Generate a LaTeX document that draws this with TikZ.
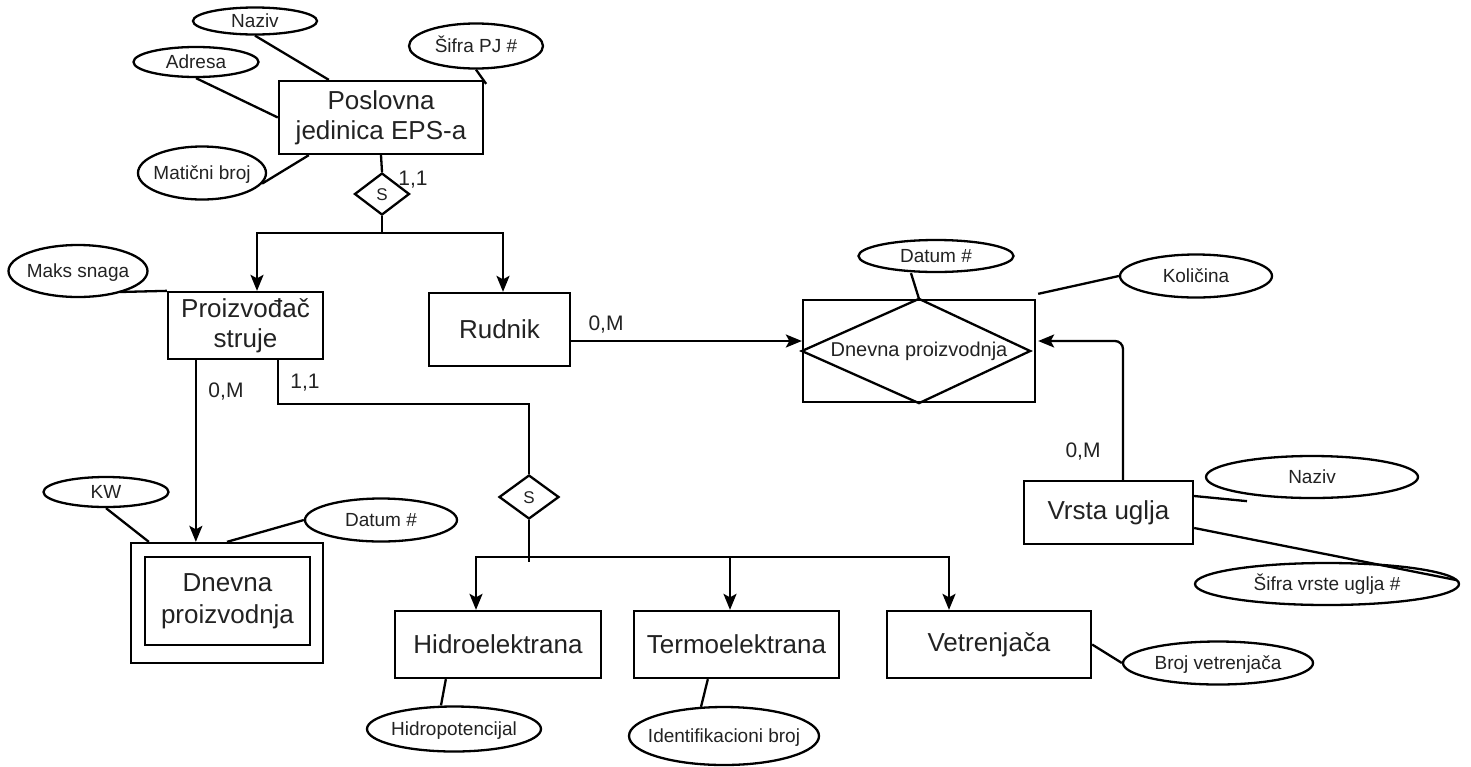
\documentclass[tikz,border=0pt]{standalone}
\usepackage{fontspec}
\setmainfont{Liberation Sans}
\usetikzlibrary{shapes.geometric,arrows.meta,calc}
\definecolor{txt}{HTML}{222222}
\newcommand{\mytxt}[1]{\smash{\raisebox{-0.36em}{\makebox[0pt]{#1}}}}
\begin{document}
\begin{tikzpicture}[x=1pt,y=-1pt,line width=2.3pt,
  ent/.style={draw, rectangle, inner sep=0pt, align=center, font=\fontsize{26}{30}\selectfont, text=txt},
  attr/.style={draw, ellipse, inner sep=0pt, font=\fontsize{19}{22}\selectfont, text=txt},
  rel/.style={draw, diamond, inner sep=0pt, font=\fontsize{17}{20}\selectfont, text=txt},
  card/.style={font=\fontsize{21}{24}\selectfont, text=txt, inner sep=0pt},
  arr/.style={-{Stealth[length=16pt,width=13pt,inset=3.5pt]}}]
\useasboundingbox (0,0) rectangle (1471,766);

% entities
\node[ent, minimum width=204pt, minimum height=73pt] (pj) at (381,117.5) {Poslovna\\jedinica EPS-a};
\node[ent, minimum width=155pt, minimum height=67pt] (ps) at (245.5,325.5) {Proizvođač\\struje};
\node[ent, minimum width=141pt, minimum height=73pt] (rud) at (499.5,329.5) {Rudnik};
\node[ent, minimum width=232pt, minimum height=102pt, font=\fontsize{20}{24}\selectfont] (dp2) at (919,351) {Dnevna proizvodnja};
\node[ent, minimum width=169pt, minimum height=63pt] (vu) at (1108.5,512.5) {Vrsta uglja};
\node[ent, minimum width=206pt, minimum height=67pt] (hid) at (498,644.5) {Hidroelektrana};
\node[ent, minimum width=205pt, minimum height=67pt] (ter) at (736.5,644.5) {Termoelektrana};
\node[ent, minimum width=204pt, minimum height=67pt] (vet) at (989,644.5) {Vetrenjača};
\node[ent, minimum width=192pt, minimum height=120pt] (weako) at (227,603) {};
\node[ent, minimum width=165pt, minimum height=88pt, font=\fontsize{26}{32}\selectfont] (weak) at (227.5,601) {Dnevna\\proizvodnja};

\draw (dp2.north) -- ($(dp2.east)+(-6,0)$) -- (dp2.south) -- (dp2.west) -- cycle;

% relationships
\node[rel, minimum width=55pt, minimum height=42pt] (s1) at (382,194) {\mytxt{S}};
\node[rel, minimum width=60pt, minimum height=44pt] (s2) at (529,497) {\mytxt{S}};

% attributes
\node[attr, minimum width=124pt, minimum height=27pt] (naz1) at (255,21) {\mytxt{Naziv}};
\node[attr, minimum width=125pt, minimum height=30pt] (adr) at (196,62) {\mytxt{Adresa}};
\node[attr, minimum width=134pt, minimum height=45pt] (sifpj) at (476,46) {\mytxt{Šifra PJ \#}};
\node[attr, minimum width=128pt, minimum height=53pt] (mat) at (202,173) {\mytxt{Matični broj}};
\node[attr, minimum width=139pt, minimum height=52pt] (maks) at (78,271) {\mytxt{Maks snaga}};
\node[attr, minimum width=125pt, minimum height=30pt] (kw) at (106,492) {\mytxt{KW}};
\node[attr, minimum width=152pt, minimum height=43pt] (dat1) at (381,520) {\mytxt{Datum \#}};
\node[attr, minimum width=155pt, minimum height=32pt] (dat2) at (936,256) {\mytxt{Datum \#}};
\node[attr, minimum width=152pt, minimum height=43pt] (kol) at (1196,276) {\mytxt{Količina}};
\node[attr, minimum width=212pt, minimum height=42pt] (naz2) at (1312,477) {\mytxt{Naziv}};
\node[attr, minimum width=264pt, minimum height=42pt] (sifvu) at (1327,584) {\mytxt{Šifra vrste uglja \#}};
\node[attr, minimum width=190pt, minimum height=43pt] (brv) at (1218,663) {\mytxt{Broj vetrenjača}};
\node[attr, minimum width=174pt, minimum height=45pt] (hpot) at (454,729) {\mytxt{Hidropotencijal}};
\node[attr, minimum width=190pt, minimum height=58pt] (ident) at (724,736) {\mytxt{Identifikacioni broj}};

% attribute connectors
\draw (naz1.south) -- ($(pj.north west)+(51,0)$);
\draw (adr.south) -- (pj.west);
\draw (sifpj.south) -- ($(pj.north east)+(2,4)$);
\draw (mat.-10) -- ($(pj.south west)+(31,0)$);
\draw ($(maks.center)+(42,21)$) -- (ps.north west);
\draw (kw.south) -- ($(weako.north west)+(19,0)$);
\draw (dat1.west) -- (weako.north);
\draw ($(dat2.south)+(-25,0)$) -- (dp2.north);
\draw ($(dp2.north east)+(2,-5)$) -- (kol.west);
\draw ($(vu.east)+(0,-16.5)$) -- ($(naz2.south)+(-65,2)$);
\draw ($(vu.east)+(0,15.5)$) -- ($(sifvu.east)+(-4,-4)$);
\draw (vet.east) -- (brv.west);
\draw ($(hid.south west)+(52,0)$) -- ($(hpot.north)+(-13,0)$);
\draw ($(ter.south west)+(75,0)$) -- ($(ident.north)+(-23,1)$);

% specialization 1
\draw (pj.south) -- (s1.north);
\coordinate (j1) at (s1.south |- 0,233);
\draw (s1.south) -- (j1);
\draw[arr] (j1) -| ($(ps.north)+(11.5,0)$);
\draw[arr] (j1) -| ($(rud.north)+(3.5,0)$);

% producer links
\draw[arr] ($(ps.south west)+(29,0)$) -- ($(weako.north west)+(66,0)$);
\draw ($(ps.south west)+(111,0)$) -- ++(0,44) -| (s2.north);

% specialization 2
\coordinate (j2) at (s2.south |- 0,557);
\draw (s2.south) -- ($(j2)+(0,5)$);
\draw[arr] (j2) -| ($(hid.north)+(-22,0)$);
\draw[arr] (j2) -| ($(ter.north)+(-6.5,0)$);
\draw[arr] (j2) -| ($(vet.north)+(-40,0)$);

% relationship Dnevna proizvodnja
\draw[arr] ($(rud.east)+(0,11.5)$) -- ($(dp2.west)+(0,-10)$);
\draw[arr, rounded corners=8pt] ($(vu.north)+(14.5,0)$) |- ($(dp2.east)+(2,-10)$);

% cardinalities
\node[card] (c1) at (413,180) {1,1};
\node[card] (c2) at (226,392) {0,M};
\node[card] (c3) at (305,383) {1,1};
\node[card] (c4) at (606,325) {0,M};
\node[card] (c5) at (1083,452) {0,M};
\end{tikzpicture}
\end{document}
